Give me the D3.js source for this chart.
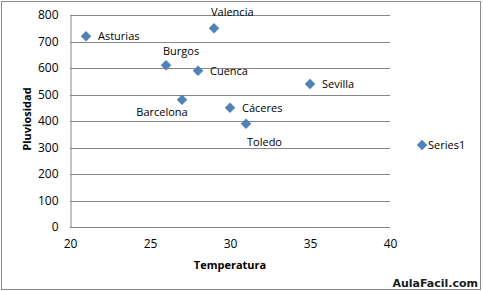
<!DOCTYPE html>
<html>
<head>
<meta charset="utf-8">
<script src="https://cdn.jsdelivr.net/npm/d3@7"></script>
<style>
  body { margin: 0; background: #fff; }
  svg { display: block; }
</style>
</head>
<body>
<svg id="chart" width="483" height="291"></svg>
<script>
var cities = ['Asturias', 'Valencia', 'Burgos', 'Cuenca', 'Barcelona', 'Cáceres', 'Toledo', 'Sevilla'];
var temperatura = [21, 29, 26, 28, 27, 30, 31, 35];
var pluviosidad = [720, 750, 610, 590, 480, 450, 390, 540];
var xTicks = [20, 25, 30, 35, 40];
var yTicks = [0, 100, 200, 300, 400, 500, 600, 700, 800];
var seriesName = 'Series1';

// where each data label sits relative to its marker
var labelOffsets = {
  'Asturias': [12, 4, 'start'],
  'Valencia': [-3, -12, 'start'],
  'Burgos': [-3, -10, 'start'],
  'Cuenca': [12, 4, 'start'],
  'Barcelona': [-20, 16, 'middle'],
  'Cáceres': [12, 4, 'start'],
  'Toledo': [1, 22, 'start'],
  'Sevilla': [12, 4, 'start']
};

var font = 'Open Sans, Noto Sans, sans-serif';
var svg = d3.select('#chart');

svg.append('rect')
  .attr('x', 1.5).attr('y', 1.5)
  .attr('width', 479).attr('height', 288)
  .attr('fill', '#fff')
  .attr('stroke', '#8c8c8c');

var x = d3.scaleLinear().domain([20, 40]).range([70, 390]);
var y = d3.scaleLinear().domain([0, 800]).range([227, 15]);

// gridlines
svg.append('g')
  .selectAll('line')
  .data(yTicks)
  .join('line')
  .attr('x1', x(20)).attr('x2', x(40))
  .attr('y1', function (d) { return Math.round(y(d)) + 0.5; })
  .attr('y2', function (d) { return Math.round(y(d)) + 0.5; })
  .attr('stroke', '#868686');

// y axis
var yAxis = svg.append('g')
  .attr('transform', 'translate(70.5,0)')
  .call(d3.axisLeft(y).tickValues(yTicks).tickSize(0).tickPadding(12));
yAxis.select('.domain').attr('stroke', '#868686');
yAxis.selectAll('.tick text')
  .attr('font-family', font).attr('font-size', '12px').attr('fill', '#000');

// x axis
var xAxis = svg.append('g')
  .attr('transform', 'translate(0,227.5)')
  .call(d3.axisBottom(x).tickValues(xTicks).tickSize(0).tickPadding(12));
xAxis.select('.domain').remove();
xAxis.selectAll('.tick text')
  .attr('font-family', font).attr('font-size', '12px').attr('fill', '#000');

// markers
var diamond = d3.symbol().type(d3.symbolDiamond2).size(70);
svg.append('g')
  .selectAll('path')
  .data(cities)
  .join('path')
  .attr('d', diamond)
  .attr('transform', function (d, i) {
    return 'translate(' + x(temperatura[i]) + ',' + y(pluviosidad[i]) + ')';
  })
  .attr('fill', '#4f81bd');

// data labels
svg.append('g')
  .selectAll('text')
  .data(cities)
  .join('text')
  .attr('x', function (d, i) { return x(temperatura[i]) + labelOffsets[d][0]; })
  .attr('y', function (d, i) { return y(pluviosidad[i]) + labelOffsets[d][1]; })
  .attr('text-anchor', function (d) { return labelOffsets[d][2]; })
  .attr('font-family', font)
  .attr('font-size', '11px')
  .attr('fill', '#000')
  .text(function (d) { return d; });

// axis titles
svg.append('text')
  .attr('x', 230).attr('y', 269)
  .attr('text-anchor', 'middle')
  .attr('font-family', font).attr('font-size', '11px').attr('font-weight', 'bold')
  .text('Temperatura');

svg.append('text')
  .attr('transform', 'translate(31,119) rotate(-90)')
  .attr('text-anchor', 'middle')
  .attr('font-family', font).attr('font-size', '11px').attr('font-weight', 'bold')
  .text('Pluviosidad');

// legend
svg.append('path')
  .attr('d', diamond)
  .attr('transform', 'translate(422,145)')
  .attr('fill', '#4f81bd');
svg.append('text')
  .attr('x', 428).attr('y', 149)
  .attr('font-family', font).attr('font-size', '11px')
  .text(seriesName);

// watermark
svg.append('text')
  .attr('x', 478).attr('y', 287)
  .attr('text-anchor', 'end')
  .attr('font-family', 'DejaVu Sans, sans-serif')
  .attr('font-size', '11px').attr('font-weight', 'bold')
  .attr('fill', '#1a1a1a')
  .text('AulaFacil.com');
</script>
</body>
</html>
